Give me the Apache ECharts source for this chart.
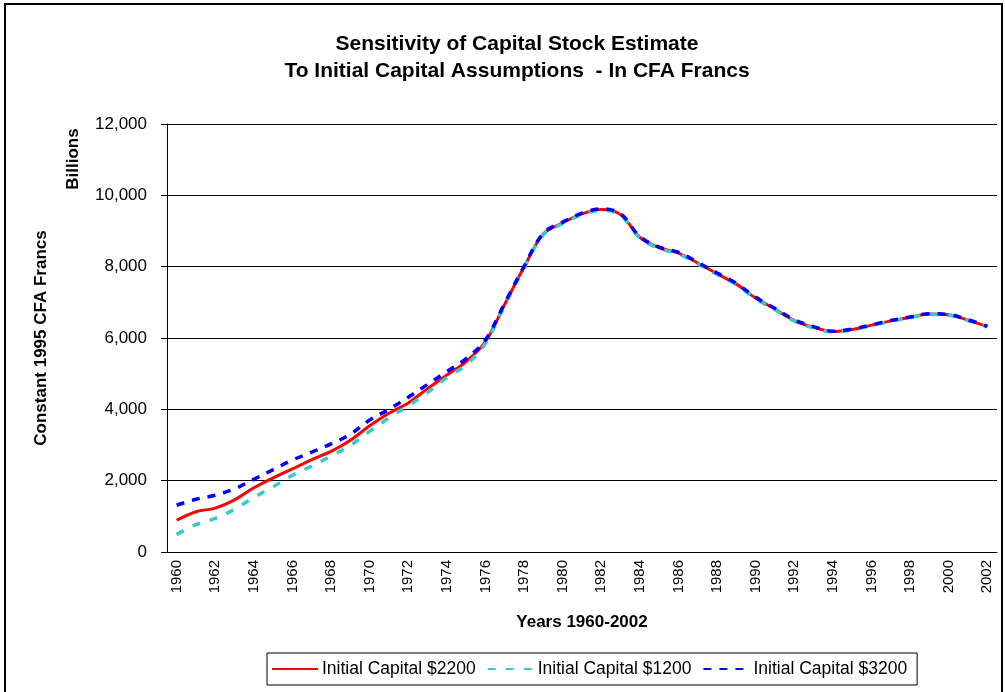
<!DOCTYPE html>
<html>
<head>
<meta charset="utf-8">
<script src="https://cdn.jsdelivr.net/npm/echarts@6/dist/echarts.min.js"></script>
<style>
  html, body { margin: 0; padding: 0; background: #fff; }
  #chart { width: 1005px; height: 692px; }
</style>
</head>
<body>
<div id="chart"></div>
<script>
const years = [];
for (let y = 1960; y <= 2002; y++) years.push(String(y));

// billions of constant 1995 CFA francs
const capital2200 = [890, 1130, 1230, 1460, 1800, 2080, 2330, 2590, 2820, 3130,
  3540, 3890, 4180, 4580, 4960, 5340, 5900, 6950, 7990, 8920,
  9230, 9480, 9600, 9460, 8820, 8530, 8380, 8100, 7800, 7510,
  7120, 6810, 6490, 6300, 6180, 6240, 6360, 6480, 6580, 6670,
  6650, 6500, 6320];
const capital1200 = [490, 770, 940, 1200, 1530, 1830, 2150, 2410, 2690, 2990,
  3380, 3760, 4100, 4470, 4890, 5250, 5850, 6920, 7970, 8900,
  9210, 9460, 9580, 9440, 8800, 8510, 8360, 8080, 7780, 7490,
  7100, 6790, 6470, 6280, 6170, 6230, 6350, 6470, 6570, 6660,
  6640, 6490, 6310];
const capital3200 = [1310, 1480, 1590, 1770, 2040, 2310, 2580, 2800, 3030, 3300,
  3700, 4000, 4340, 4700, 5060, 5420, 5950, 6980, 8010, 8940,
  9250, 9500, 9620, 9480, 8840, 8550, 8400, 8120, 7820, 7530,
  7140, 6830, 6510, 6320, 6190, 6250, 6370, 6490, 6590, 6680,
  6660, 6510, 6330];

const seriesNames = ['Initial Capital $2200', 'Initial Capital $1200', 'Initial Capital $3200'];
const font = '"Liberation Sans", Arial, sans-serif';

const chart = echarts.init(document.getElementById('chart'), null, { renderer: 'canvas' });

const option = {
  animation: false,
  backgroundColor: '#fff',
  textStyle: { fontFamily: font, color: '#000' },
  title: {
    text: 'Sensitivity of Capital Stock Estimate\nTo Initial Capital Assumptions  - In CFA Francs',
    left: 512,
    textAlign: 'center',
    top: 26,
    textStyle: { fontFamily: font, fontSize: 21, fontWeight: 'bold', color: '#000', lineHeight: 27 }
  },
  grid: { left: 167, right: 8, top: 124, bottom: 140, containLabel: false },
  legend: {
    data: seriesNames,
    left: 267,
    top: 653,
    padding: [7, 10, 7, 4],
    itemGap: 11,
    itemWidth: 46,
    itemHeight: 14,
    borderColor: '#000',
    borderWidth: 1,
    itemStyle: { opacity: 0 },
    textStyle: { fontFamily: font, fontSize: 17.5, color: '#000', padding: [0, 0, 0, -1] }
  },
  xAxis: {
    type: 'category',
    data: years,
    boundaryGap: true,
    axisLine: { lineStyle: { color: '#000', width: 1 } },
    axisTick: { interval: 0, length: 6, lineStyle: { color: '#000' } },
    axisLabel: { interval: 1, rotate: 90, margin: 8, fontSize: 15, color: '#000', fontFamily: font },
    splitLine: { show: false }
  },
  yAxis: {
    type: 'value',
    min: 0,
    max: 12000,
    interval: 2000,
    axisLine: { show: true, lineStyle: { color: '#000', width: 1 } },
    axisTick: { show: true, length: 6, lineStyle: { color: '#000' } },
    axisLabel: {
      margin: 20, fontSize: 17, color: '#000', fontFamily: font,
      formatter: (v) => v.toLocaleString('en-US')
    },
    splitLine: { lineStyle: { color: '#000', width: 1 } }
  },
  series: [
    {
      name: seriesNames[0], type: 'line', data: capital2200,
      symbol: 'none', smooth: 0.35,
      lineStyle: { color: '#ff0000', width: 3 },
      itemStyle: { color: '#ff0000' }
    },
    {
      name: seriesNames[1], type: 'line', data: capital1200,
      symbol: 'none', smooth: 0.35,
      lineStyle: { color: '#33cccc', width: 3.5, type: [8, 10] },
      itemStyle: { color: '#33cccc' }
    },
    {
      name: seriesNames[2], type: 'line', data: capital3200,
      symbol: 'none', smooth: 0.35,
      lineStyle: { color: '#0000ff', width: 3.5, type: [8, 8] },
      itemStyle: { color: '#0000ff' }
    }
  ],
  graphic: [
    {
      type: 'rect', silent: true,
      shape: { x: 5, y: 4, width: 997, height: 700 },
      style: { fill: 'none', stroke: '#000', lineWidth: 2 }
    },
    {
      type: 'text', x: 41, y: 338, rotation: Math.PI / 2,
      style: { text: 'Constant 1995 CFA Francs', font: 'bold 17px ' + font, fill: '#000', textAlign: 'center', textVerticalAlign: 'middle' }
    },
    {
      type: 'text', x: 73, y: 159, rotation: Math.PI / 2,
      style: { text: 'Billions', font: 'bold 17px ' + font, fill: '#000', textAlign: 'center', textVerticalAlign: 'middle' }
    },
    {
      type: 'text', x: 582, y: 622,
      style: { text: 'Years 1960-2002', font: 'bold 17px ' + font, fill: '#000', textAlign: 'center', textVerticalAlign: 'middle' }
    }
  ]
};

chart.setOption(option);
</script>
</body>
</html>
